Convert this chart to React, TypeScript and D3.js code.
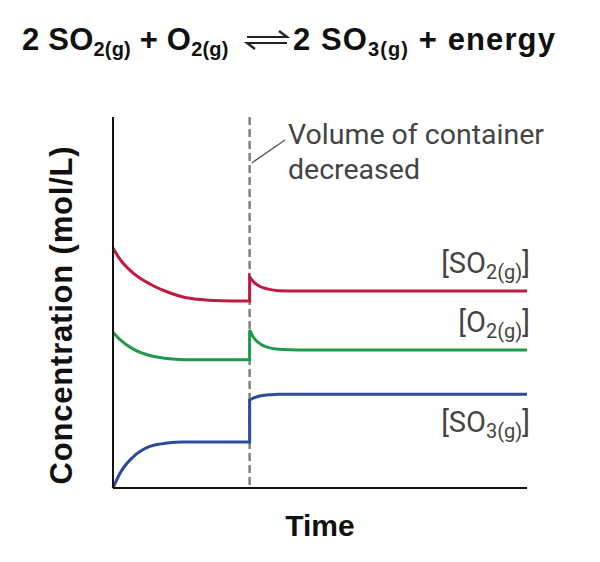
import React from "react";
import * as d3 from "d3";

const TIME_BEFORE = [0, 1.7, 4.8, 8.9, 13.0, 16.9, 21.0, 26, 33];
const TIME_AFTER = [33, 34, 35.5, 37.5, 40, 45, 55, 100];
const SO2_BEFORE = [64.7, 61.6, 58.0, 55.0, 52.9, 51.5, 50.8, 50.5, 50.4];
const SO2_AFTER = [56.9, 55.5, 54.3, 53.6, 53.2, 53.1, 53.1, 53.1];
const O2_BEFORE = [42.0, 40.0, 37.5, 35.7, 34.9, 34.6, 34.6, 34.6, 34.6];
const O2_AFTER = [42.6, 40.5, 38.9, 37.9, 37.4, 37.2, 37.2, 37.2];
const SO3_BEFORE = [0, 4.0, 8.3, 11.2, 12.1, 12.4, 12.4, 12.4, 12.4];
const SO3_AFTER = [23.7, 24.3, 24.8, 25.1, 25.3, 25.3, 25.3, 25.3];
const CHANGE_TIME = 33;
const SERIES_NAMES = ["SO", "O", "SO"];
const SERIES_SUBS = ["2(g)", "2(g)", "3(g)"];
const SERIES_COLORS = ["#bf1b3f", "#1f9a4c", "#2c4b9c"];

const W = 600;
const H = 562;

export default function App() {
  const x = d3.scaleLinear().domain([0, 100]).range([113, 527]);
  const y = d3.scaleLinear().domain([0, 100]).range([488, 117]);
  const line = d3
    .line<[number, number]>()
    .x((d) => x(d[0]))
    .y((d) => y(d[1]))
    .curve(d3.curveMonotoneX);

  const series = [
    [SO2_BEFORE, SO2_AFTER],
    [O2_BEFORE, O2_AFTER],
    [SO3_BEFORE, SO3_AFTER],
  ];

  const paths = series.map(([b, a]) => {
    const p1 = line(TIME_BEFORE.map((t, i) => [t, b[i]]) as [number, number][]) || "";
    const p2 = line(TIME_AFTER.map((t, i) => [t, a[i]]) as [number, number][]) || "";
    return p1 + p2.replace(/^M/, "L");
  });

  const labelOffsets = [-18, -18, 38];
  const font = "'Liberation Sans', Arial, sans-serif";
  const thin = "Roboto, 'Liberation Sans', sans-serif";
  const cx = x(CHANGE_TIME);

  return (
    <svg
      width={W}
      height={H}
      style={{ position: "absolute", left: 0, top: 0, background: "#fff" }}
    >
      {/* Title */}
      <text x={22} y={50} fontFamily={font} fontWeight="bold" fontSize={31} letterSpacing={0.2} fill="#111">
        2 SO<tspan fontSize={20} dy={6}>2(g)</tspan>
        <tspan dy={-6}> + O</tspan>
        <tspan fontSize={20} dy={6}>2(g)</tspan>
      </text>
      <g stroke="#222" strokeWidth={2.2} fill="none">
        <path d="M247,37 L287,37 L279,31" />
        <path d="M287,43 L247,43 L255,49" />
      </g>
      <text x={293} y={50} fontFamily={font} fontWeight="bold" fontSize={31} letterSpacing={1.1} fill="#111">
        2 SO<tspan fontSize={20} dy={6}>3(g)</tspan>
        <tspan dy={-6}> + energy</tspan>
      </text>

      {/* dashed line */}
      <line
        x1={cx}
        x2={cx}
        y1={y(100)}
        y2={y(0)}
        stroke="#808080"
        strokeWidth={2.5}
        strokeDasharray="8 4"
      />
      {/* leader */}
      <line x1={cx + 2} y1={163} x2={285} y2={140} stroke="#555" strokeWidth={1.3} />
      <text x={288} y={144} fontFamily={thin} fontSize={28.5} fill="#444">
        Volume of container
      </text>
      <text x={288} y={179} fontFamily={thin} fontSize={28.5} fill="#444">
        decreased
      </text>

      {/* curves */}
      {paths.map((d, i) => (
        <path key={i} d={d} fill="none" stroke={SERIES_COLORS[i]} strokeWidth={3} />
      ))}

      {/* curve labels */}
      {series.map(([, a], i) => (
        <text
          key={i}
          x={530}
          y={y(a[a.length - 1]) + labelOffsets[i]}
          textAnchor="end"
          fontFamily={thin}
          fontSize={29}
          fill="#444"
        >
          [{SERIES_NAMES[i]}
          <tspan fontSize={20} dy={6}>{SERIES_SUBS[i]}</tspan>
          <tspan dy={-6}>]</tspan>
        </text>
      ))}

      {/* axes */}
      <line x1={x(0)} x2={x(0)} y1={y(0)} y2={y(100)} stroke="#111" strokeWidth={2} />
      <line x1={x(0)} x2={x(100)} y1={y(0)} y2={y(0)} stroke="#111" strokeWidth={2} />

      <text
        transform={`translate(72,315) rotate(-90)`}
        textAnchor="middle"
        fontFamily={font}
        fontWeight="bold"
        fontSize={31}
        letterSpacing={0.8}
        fill="#111"
      >
        Concentration (mol/L)
      </text>
      <text
        x={320}
        y={536}
        textAnchor="middle"
        fontFamily={font}
        fontWeight="bold"
        fontSize={30}
        fill="#111"
      >
        Time
      </text>
    </svg>
  );
}
